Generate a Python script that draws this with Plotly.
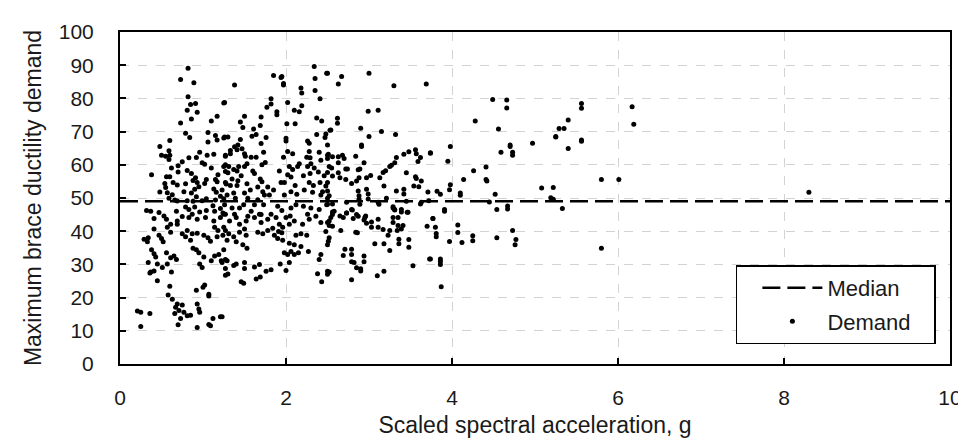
import plotly.graph_objects as go

# ---- data (Sa in g, ductility demand) ----
median_value = 49.0
median_sa = [0, 10]

region_a = [(0.82,89.1),(0.73,85.7),(0.89,84.7),(0.82,80.5),(0.85,78.2),(0.91,78.5),(0.81,76.4),(0.93,75.8),(1.25,78.6),(0.86,73.8),
 (0.73,72.6),(0.79,69.5),(0.84,68.2),(1.10,73.2),(1.17,74.6),(1.06,69.7),(1.15,68.8),(1.25,68.1),(0.60,67.3),(0.48,65.5),
 (0.59,64.2),(0.50,62.9),(0.55,62.6),(0.60,62.9),(0.59,61.6),(1.06,66.9),(1.17,67.5),(0.96,63.8),(0.92,62.2),(0.83,62.1),
 (1.05,62.9),(1.13,63.2),(1.27,62.6),(0.99,60.6),(1.02,60.2),(1.10,59.0),(0.62,59.0),(0.75,60.9),(0.70,59.7),(0.81,58.3),
 (0.38,57.0),(0.56,56.4),(0.60,56.4),(0.70,57.8),(0.64,54.7),(0.54,54.4),(0.55,53.2),(0.69,53.9),(0.86,57.4),(0.91,56.1),
 (0.88,55.3),(0.93,54.7),(0.79,54.3),(0.90,52.6),(0.95,53.4),(1.02,54.4),(1.04,55.6),(1.15,55.6),(1.17,54.9),(1.25,59.5),
 (1.28,54.2),(1.27,58.0),(1.18,57.0),(0.48,51.8),(0.57,51.6),(0.63,51.0),(0.66,49.4),(0.59,49.9),(0.77,51.9),(0.86,51.5),
 (0.92,50.4),(0.81,49.2),(0.88,49.0),(0.99,49.2),(1.04,49.8),(1.13,52.7),(1.16,51.7),(1.21,50.5),(1.25,49.8),(1.15,49.4),
 (0.69,49.1),(0.32,46.2),(0.37,46.0),(0.47,45.6),(0.53,44.6),(0.68,46.0),(0.79,47.3),(0.83,46.5),(0.90,47.3),(0.87,45.1),
 (0.96,45.8),(1.04,46.2),(1.12,47.7),(1.14,46.0),(1.21,46.8),(1.25,45.1)]

region_b = [(0.41,43.8),(0.56,43.6),(0.61,42.1),(0.69,43.1),(0.75,44.4),(0.83,44.1),(0.93,43.6),(1.03,44.1),(1.13,43.1),(1.21,44.1),
 (0.57,41.2),(0.61,39.7),(0.69,42.1),(0.41,40.7),(0.34,38.0),(0.29,37.6),(0.33,36.8),(0.47,38.8),(0.50,37.8),(0.52,36.8),
 (0.75,39.2),(0.81,40.2),(0.87,39.2),(0.93,39.4),(0.79,38.3),(0.85,37.3),(1.01,38.8),(1.06,38.0),(1.14,41.2),(1.18,40.2),
 (1.24,38.8),(1.25,41.2),(1.17,38.3),(1.09,37.0),(0.38,34.4),(0.41,33.2),(0.43,32.2),(0.56,33.5),(0.61,32.0),(0.65,32.5),
 (0.88,34.9),(0.95,33.5),(0.92,34.4),(1.01,32.2),(0.96,30.1),(0.99,29.1),(1.14,32.5),(1.19,33.0),(1.22,31.1),(1.27,31.5),
 (1.25,34.4),(1.10,31.1),(0.34,30.6),(0.45,30.1),(0.51,29.1),(0.57,30.1),(0.37,27.7),(0.36,27.4),(0.41,28.0),(0.62,27.7),
 (0.68,31.5),(0.45,25.1),(0.60,23.4),(0.58,20.8),(0.63,19.5),(0.69,18.1),(0.67,17.1),(0.71,16.1),(0.75,17.8),(0.77,15.6),
 (0.81,14.5),(0.85,14.7),(0.73,13.7),(0.70,11.8),(0.66,15.2),(0.93,18.1),(0.95,16.6),(0.96,15.6),(0.92,22.2),(1.00,23.1),
 (1.02,23.8),(1.07,21.0),(1.07,20.5),(0.21,16.0),(0.25,15.6),(0.36,15.2),(0.25,11.3),(0.93,11.0),(1.07,11.9),(1.09,11.5),
 (1.12,13.7),(1.21,14.2),(1.27,26.7)]

region_c = [(1.38,84.0),(1.85,86.9),(1.94,86.3),(1.95,86.6),(1.97,84.5),(1.97,84.0),(2.18,83.1),(2.19,81.6),(2.34,89.6),(2.35,86.0),
 (2.49,87.6),(2.35,82.4),(2.41,79.9),(1.26,78.8),(1.82,79.9),(1.82,78.3),(1.77,77.3),(1.89,76.0),(1.89,75.1),(2.02,78.8),
 (2.19,77.8),(2.10,76.4),(2.16,76.0),(1.50,74.6),(1.45,72.9),(1.48,71.2),(1.70,74.4),(1.69,71.8),(1.61,70.8),(1.59,68.6),
 (1.64,69.1),(1.76,68.2),(2.01,72.4),(2.11,72.4),(2.37,74.1),(2.43,73.2),(2.47,68.2),(2.53,70.4),(2.37,69.1),(1.26,68.4),
 (1.30,68.4),(1.45,67.6),(1.42,66.0),(1.38,65.4),(1.41,64.5),(1.33,64.3),(1.27,62.9),(1.33,63.3),(1.47,64.8),(1.50,63.3),
 (1.51,62.6),(1.58,62.3),(1.64,62.3),(1.73,63.8),(1.70,66.4),(2.00,68.0),(2.00,67.2),(1.97,62.3),(2.02,64.0),(2.08,63.3),
 (2.26,67.2),(2.28,66.5),(2.28,64.0),(2.25,62.3),(2.29,62.1),(2.40,63.8),(2.50,62.9),(1.27,60.0),(1.31,59.5),(1.30,57.6),
 (1.37,58.6),(1.41,58.1),(1.43,59.5),(1.50,59.5),(1.53,60.3),(1.60,58.1),(1.71,60.0),(1.75,60.7),(1.62,57.4),(1.46,56.7),
 (1.27,54.7),(1.35,55.7),(1.42,55.2),(1.33,53.8),(1.41,53.8),(1.53,54.3),(1.69,55.7),(1.71,54.9),(1.57,52.4),(1.50,51.5),
 (1.66,53.3),(1.72,51.9),(1.78,53.3),(1.85,52.4),(1.80,50.9),(1.92,58.1),(2.04,59.5),(2.08,58.6),(2.14,59.5),(2.16,60.3),
 (2.02,57.0),(2.06,56.3),(1.94,54.7),(1.98,54.7),(2.11,53.8),(1.98,50.9),(2.06,51.9),(2.13,51.1),(2.22,52.4),(2.26,59.5),
 (2.30,60.3),(2.34,59.0),(2.42,61.4),(2.50,61.9),(2.52,59.5),(2.21,56.7),(2.29,57.4),(2.39,57.8),(2.46,56.7),(2.28,54.7),
 (2.33,53.8),(2.41,54.7),(2.50,54.7),(2.44,51.9),(2.32,51.7),(2.42,50.9),(2.50,49.9),(1.23,52.4),(1.29,50.9),(1.37,51.5),
 (1.39,49.9),(1.54,49.9),(1.66,49.5),(1.74,50.9),(1.26,48.0),(1.35,47.0),(1.44,47.0),(1.49,48.0),(1.62,48.0),(1.73,48.0),
 (1.90,47.5),(1.95,46.2),(2.06,47.0),(2.12,48.0),(2.21,47.5),(2.30,47.0),(2.40,46.5),(2.49,48.0),(1.27,45.1),(1.38,45.1),
 (1.58,46.0),(1.68,45.1),(1.82,45.1),(2.05,44.6),(2.26,45.1)]

region_d = [(1.24,45.5),(1.32,43.1),(1.40,44.1),(1.44,42.1),(1.52,43.1),(1.54,44.5),(1.62,44.1),(1.70,42.6),(1.78,43.6),(1.70,45.0),
 (1.88,44.1),(1.92,42.1),(1.96,41.2),(2.00,44.1),(2.04,42.1),(2.10,43.1),(2.20,42.1),(2.28,43.6),(2.36,44.5),(2.42,42.6),
 (2.52,43.1),(1.27,40.2),(1.31,39.2),(1.37,38.3),(1.29,37.3),(1.44,39.7),(1.50,40.7),(1.52,38.8),(1.40,36.8),(1.48,35.9),
 (1.53,34.9),(1.66,39.7),(1.72,39.2),(1.78,40.2),(1.84,40.9),(1.86,38.8),(1.91,39.9),(1.95,39.5),(1.90,37.8),(1.96,37.3),
 (1.98,33.5),(2.02,33.0),(2.06,33.9),(2.10,33.0),(2.15,33.5),(2.04,36.4),(2.10,35.9),(2.12,38.8),(2.18,39.2),(2.25,38.8),
 (2.18,35.4),(2.27,33.9),(2.42,33.0),(2.40,31.5),(2.52,41.7),(1.23,30.6),(1.29,31.1),(1.27,28.8),(1.30,27.1),(1.37,29.7),
 (1.40,30.1),(1.50,30.6),(1.46,24.8),(1.49,24.3),(1.50,28.8),(1.62,29.2),(1.68,30.0),(1.69,26.2),(1.64,25.6),(1.76,27.9),
 (1.82,28.4),(1.93,30.1),(2.00,28.2),(2.04,30.6),(2.38,27.2),(2.43,24.8),(2.52,27.7),(1.23,14.2)]

region_e = [(2.50,87.6),(2.67,86.6),(2.63,84.3),(3.00,87.6),(3.30,83.8),(3.69,84.3),(2.99,76.1),(3.11,76.4),(2.62,74.0),(2.62,72.5),
 (2.54,70.5),(2.90,71.0),(2.48,69.3),(3.00,68.5),(3.15,70.0),(3.32,69.1),(2.50,66.0),(2.91,66.0),(2.91,65.5),(2.51,63.2),
 (2.56,62.4),(2.63,62.4),(2.68,62.9),(2.70,61.9),(2.63,60.6),(2.84,62.6),(2.94,60.6),(2.55,59.0),(2.72,58.7),(2.74,58.7),
 (2.87,58.5),(2.89,58.7),(2.50,57.7),(2.56,56.6),(2.63,57.6),(2.65,56.1),(2.72,55.6),(2.79,54.4),(2.85,55.1),(2.88,56.1),
 (2.97,56.1),(3.02,56.8),(3.13,56.1),(3.17,57.7),(3.20,58.2),(3.25,59.5),(3.27,59.9),(3.31,60.6),(3.33,62.2),(3.42,63.2),
 (3.48,63.9),(3.56,64.5),(3.57,63.3),(3.62,62.2),(3.59,61.0),(3.74,63.6),(3.45,57.6),(3.56,56.4),(3.57,55.9),(3.63,55.1),
 (3.54,53.6),(3.60,53.4),(3.71,51.8),(2.48,53.6),(2.50,52.1),(2.52,50.7),(2.56,48.2),(2.73,48.7),(2.87,52.1),(2.88,50.7),
 (2.88,49.6),(2.97,52.6),(2.99,51.2),(2.99,49.7),(3.11,48.7),(3.18,53.6),(3.21,49.9),(3.33,52.1),(3.42,52.6),(3.42,51.2),
 (3.45,49.0),(3.63,48.7),(3.72,49.2),(2.56,45.8),(2.65,44.6),(2.73,45.5),(2.80,46.4),(2.85,45.0),(2.96,44.6),(3.29,47.4),
 (3.31,46.4),(3.39,45.8),(3.46,45.7)]

region_f = [(2.50,48.1),(2.58,46.0),(2.56,45.0),(2.54,44.1),(2.50,42.6),(2.56,41.5),(2.69,44.1),(2.73,45.5),(2.79,46.5),(2.81,43.8),
 (2.87,44.5),(2.89,48.1),(2.95,44.1),(2.94,43.4),(2.97,42.4),(3.03,42.8),(3.03,41.2),(3.11,43.6),(3.11,41.2),(3.12,48.1),
 (3.17,40.5),(3.25,40.2),(3.23,38.8),(3.29,47.0),(3.29,44.1),(3.31,46.5),(3.35,44.1),(3.39,46.5),(3.47,45.7),(3.35,41.7),
 (3.41,41.7),(3.39,40.7),(3.34,40.2),(3.29,42.6),(3.62,48.2),(3.70,41.5),(3.77,43.8),(2.48,39.9),(2.52,38.0),(2.51,37.0),
 (2.50,35.9),(2.66,40.2),(2.84,39.7),(2.86,39.5),(3.07,36.2),(3.18,36.2),(3.25,34.2),(3.36,37.6),(3.36,36.2),(3.48,37.5),
 (3.48,35.2),(3.73,31.6),(3.53,29.6),(2.71,34.6),(2.69,32.7),(2.79,34.6),(2.79,33.0),(2.79,30.8),(2.82,30.6),(2.85,29.0),
 (2.90,28.7),(2.90,28.0),(2.94,32.5),(2.94,30.8),(3.10,26.6),(3.18,27.9),(2.50,27.9),(2.50,27.0),(2.79,25.4)]

region_g = [(4.49,79.7),(4.66,79.5),(4.66,77.1),(4.28,73.2),(4.56,70.8),(5.25,68.4),(4.97,66.5),(4.70,66.0),(4.70,65.5),(4.73,63.8),
 (4.59,63.8),(4.73,62.9),(3.98,65.5),(3.74,63.5),(3.95,61.1),(4.26,58.2),(4.41,59.3),(4.41,55.6),(4.42,55.1),(4.14,55.6),
 (3.98,54.0),(3.97,52.5),(3.82,52.0),(3.86,51.1),(4.10,51.5),(4.10,50.8),(4.52,51.1),(5.08,53.0),(5.22,53.2),(5.19,50.1),
 (5.22,49.6),(4.45,48.8),(4.54,46.5),(4.67,47.6),(4.67,46.7),(3.91,46.5),(3.91,46.0),(3.77,43.8),(3.80,41.2),(3.81,39.3),
 (3.81,38.3),(4.07,41.9),(4.07,39.6),(3.97,36.9),(4.12,36.6),(4.25,38.6),(4.25,37.1),(4.54,38.0),(4.73,40.2),(4.77,37.5),
 (4.76,35.9),(3.74,31.6),(3.86,31.6),(3.86,30.9),(3.86,30.0),(3.87,23.3)]

region_h = [(5.56,78.5),(5.56,77.0),(6.17,77.5),(5.40,73.5),(5.29,70.9),(5.35,70.9),(5.25,68.5),(5.56,67.5),(5.56,67.1),(6.19,72.2),
 (5.40,64.9),(5.80,55.6),(6.01,55.6),(5.33,46.8),(5.80,34.9),(8.30,51.7)]

all_points = region_a + region_b + region_c + region_d + region_e + region_f + region_g + region_h
demand_sa = [p[0] for p in all_points]
demand_mu = [p[1] for p in all_points]

x_ticks = [0, 2, 4, 6, 8, 10]
y_ticks = [0, 10, 20, 30, 40, 50, 60, 70, 80, 90, 100]

FONT = "Liberation Sans, Arial, sans-serif"
TXT = "#1a1a1a"
PAD = "\u00a0\u00a0\u00a0"  # trailing right padding inside the legend box

fig = go.Figure()
fig.add_trace(go.Scatter(
    x=median_sa, y=[median_value] * len(median_sa), mode="lines", name="Median" + PAD,
    legendgroup="median",
    line=dict(color="black", width=2.5, dash="18px,7px"),
))
fig.add_trace(go.Scatter(
    x=demand_sa, y=demand_mu, mode="markers", name="Demand" + PAD,
    legendgroup="demand",
    marker=dict(color="black", size=5, line=dict(width=0)),
))

axis_common = dict(
    showline=True, linecolor="black", linewidth=2, mirror=True,
    ticks="inside", tickcolor="black", ticklen=6, tickwidth=1.5,
    showgrid=True, gridcolor="#d3d3d3", gridwidth=1, griddash="dash",
    zeroline=False, tickfont=dict(family=FONT, size=21, color=TXT),
)

fig.update_xaxes(
    range=[0, 10], tickvals=x_ticks, ticklabelstandoff=14,
    title=dict(text="Scaled spectral acceleration, g", font=dict(family=FONT, size=23, color=TXT), standoff=9),
    **axis_common,
)
fig.update_yaxes(
    range=[0, 100], tickvals=y_ticks, ticklabelstandoff=20,
    title=dict(text="Maximum brace ductility demand", font=dict(family=FONT, size=23, color=TXT), standoff=11),
    **axis_common,
)

fig.update_layout(
    width=966, height=438,
    margin=dict(l=112, r=14, t=21, b=70),
    paper_bgcolor="white", plot_bgcolor="white",
    font=dict(family=FONT, size=21, color=TXT),
    showlegend=True,
    legend=dict(
        x=0.983, y=0.059, xanchor="right", yanchor="bottom",
        bgcolor="white", bordercolor="black", borderwidth=1.5,
        font=dict(family=FONT, size=22, color=TXT),
        traceorder="grouped", tracegroupgap=2, itemwidth=60, indentation=20,
    ),
)

fig.write_html("out.html")
